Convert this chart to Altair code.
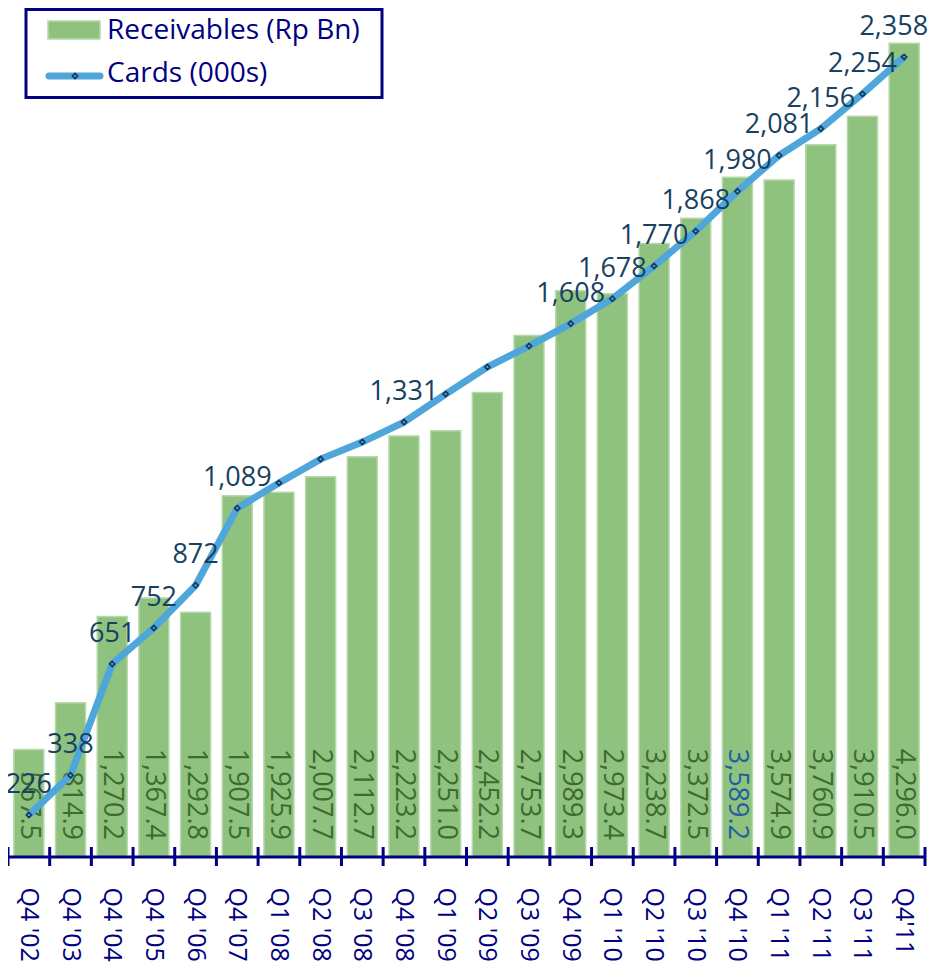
import altair as alt
import pandas as pd

cats = ["Q4 '02", "Q4 '03", "Q4 '04", "Q4 '05", "Q4 '06", "Q4 '07", "Q1 '08", "Q2 '08",
        "Q3 '08", "Q4 '08", "Q1 '09", "Q2 '09", "Q3 '09", "Q4 '09", "Q1 '10", "Q2 '10",
        "Q3 '10", "Q4 '10", "Q1 '11", "Q2 '11", "Q3 '11", "Q4'11"]
receivables = [567.5, 814.9, 1270.2, 1367.4, 1292.8, 1907.5, 1925.9, 2007.7, 2112.7, 2223.2,
               2251.0, 2452.2, 2753.7, 2989.3, 2973.4, 3238.7, 3372.5, 3589.2, 3574.9, 3760.9,
               3910.5, 4296.0]
cards = [226, 338, 651, 752, 872, 1089, 1160, 1227, 1275, 1331, 1410, 1486, 1545, 1608,
         1678, 1770, 1868, 1980, 2081, 2156, 2254, 2358]
card_labelled = [1, 1, 1, 1, 1, 1, 0, 0, 0, 1, 0, 0, 0, 1, 1, 1, 1, 1, 1, 1, 1, 1]
highlight = [0] * 17 + [1] + [0] * 4

W, H = 917, 847
FONT = "Open Sans"
NAVY = "#000080"
BAR = "#8fc17f"
BAR_STROKE = "#b7d9ac"
LINE = "#4ea6db"
LBL = "#17415f"

n = len(cats)
df = pd.DataFrame({
    "cat": cats,
    "rec": receivables,
    "cards": cards,
    "rec_lbl": [f"{v:,.1f}" for v in receivables],
    "card_lbl": [f"{v:,}" if s else "" for v, s in zip(cards, card_labelled)],
    "hl": highlight,
    "base": [0] * n,
    "last": [0] * (n - 1) + [1],
})

P_IN, P_OUT = 0.28, 0.14
xs = alt.Scale(domain=cats, paddingInner=P_IN, paddingOuter=P_OUT)
xaxis = alt.Axis(title=None, labelAngle=90, labelAlign="left", labelBaseline="middle",
                 labelFont=FONT, labelFontSize=25, labelColor=NAVY, labelPadding=30,
                 ticks=False, domain=False, grid=False, labelOverlap=False)
X = alt.X("cat:N", sort=cats, scale=xs, axis=xaxis)
yB = alt.Scale(domain=[0, 4472], zero=False, nice=False)
yL = alt.Scale(domain=[108, 2490], zero=False, nice=False)

base = alt.Chart(df)

bars = base.mark_bar(color=BAR, stroke=BAR_STROKE, strokeWidth=1.5).encode(
    x=X, y=alt.Y("rec:Q", scale=yB, axis=None))

bar_lbl = base.mark_text(angle=90, align="right", baseline="middle", dx=-17,
                         font=FONT, fontSize=27).encode(
    x=X, y=alt.Y("base:Q", scale=yB, axis=None), text="rec_lbl:N",
    color=alt.Color("hl:N", scale=alt.Scale(domain=[0, 1], range=["#3d6b2f", "#1f5f9e"]),
                    legend=None))

line = base.mark_line(color=LINE, strokeWidth=7).encode(
    x=X, y=alt.Y("cards:Q", scale=yL, axis=None))

pts = base.mark_point(shape="diamond", size=28, filled=True, fill=LINE,
                      stroke="#17375e", strokeWidth=1.6, opacity=1).encode(
    x=X, y=alt.Y("cards:Q", scale=yL, axis=None))

line_lbl = base.transform_filter(alt.datum.last == 0).mark_text(
    align="center", baseline="alphabetic", dy=-22, font=FONT, fontSize=27, color=LBL).encode(
    x=X, y=alt.Y("cards:Q", scale=yL, axis=None), text="card_lbl:N")
# last label kept inside the page's right edge
line_lbl_last = base.transform_filter(alt.datum.last == 1).mark_text(
    align="right", baseline="alphabetic", dx=24, dy=-22, font=FONT, fontSize=27,
    color=LBL).encode(
    x=X, y=alt.Y("cards:Q", scale=yL, axis=None), text="card_lbl:N")

step = W / n
half_gap = step * P_IN / 2
bandwidth = step * (1 - P_IN)
TX = alt.X("cat:N", sort=cats, scale=xs, axis=xaxis, bandPosition=0)
ticks = base.mark_rule(color=NAVY, strokeWidth=3).encode(
    x=TX, xOffset=alt.value(-half_gap), y=alt.value(H - 10), y2=alt.value(H + 9))
last_tick = base.transform_filter(alt.datum.last == 1).mark_rule(
    color=NAVY, strokeWidth=3).encode(
    x=TX, xOffset=alt.value(bandwidth + half_gap), y=alt.value(H - 10), y2=alt.value(H + 9))
domain_line = alt.Chart(pd.DataFrame({"a": [0]})).mark_rule(color=NAVY, strokeWidth=3).encode(
    x=alt.value(-1), x2=alt.value(W + 1), y=alt.value(H))

# legend (drawn)
leg_df = pd.DataFrame({"a": [0]})
leg_box = alt.Chart(leg_df).mark_rect(fill="white", stroke=NAVY, strokeWidth=3).encode(
    x=alt.value(18), x2=alt.value(374), y=alt.value(-0.5), y2=alt.value(87.5))
leg_swatch = alt.Chart(leg_df).mark_rect(fill=BAR, stroke=BAR_STROKE, strokeWidth=1.5).encode(
    x=alt.value(40), x2=alt.value(92), y=alt.value(11), y2=alt.value(29))
leg_line = alt.Chart(leg_df).mark_rule(color=LINE, strokeWidth=7, strokeCap="round").encode(
    x=alt.value(41), x2=alt.value(92), y=alt.value(66))
leg_pt = alt.Chart(leg_df).mark_point(shape="diamond", size=28, filled=True, fill=LINE,
                                      stroke="#17375e", strokeWidth=1.6, opacity=1).encode(
    x=alt.value(67), y=alt.value(66))
leg_t1 = alt.Chart(leg_df).mark_text(text="Receivables (Rp Bn)", align="left",
                                     baseline="alphabetic", font=FONT, fontSize=28,
                                     color=NAVY).encode(x=alt.value(99), y=alt.value(29))
leg_t2 = alt.Chart(leg_df).mark_text(text="Cards (000s)", align="left",
                                     baseline="alphabetic", font=FONT, fontSize=28,
                                     color=NAVY).encode(x=alt.value(99), y=alt.value(72))

chart = alt.layer(
    bars, bar_lbl, line, pts, line_lbl, line_lbl_last, ticks, last_tick, domain_line,
    leg_box, leg_swatch, leg_line, leg_pt, leg_t1, leg_t2
).resolve_scale(y="independent").properties(
    width=W, height=H,
    autosize=alt.AutoSizeParams(type="none"),
    padding={"left": 0, "top": 2, "right": 8, "bottom": 106},
    view=alt.ViewBackground(stroke="transparent", strokeWidth=0),
).configure_view(strokeWidth=0, stroke="transparent").configure(background="white")

chart.save("out.html", embed_options={"renderer": "svg", "actions": False})
